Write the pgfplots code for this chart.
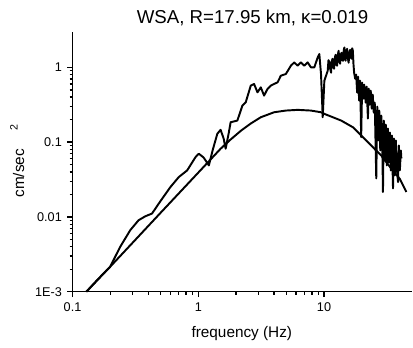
\documentclass[border=0pt]{standalone}
\usepackage{fontspec}
\setmainfont{Liberation Sans}
\usepackage{pgfplots}
\pgfplotsset{compat=1.18}
\begin{document}
\begin{tikzpicture}
\path[use as bounding box] (-54.4pt,-41.5pt) rectangle (255.4pt,218.8pt);
\begin{axis}[
  at={(0pt,0pt)}, anchor=south west,
  scale only axis, width=254.6pt, height=195pt,
  xmode=log, ymode=log,
  xmin=0.1, xmax=50, ymin=0.001, ymax=3,
  axis x line=bottom, axis y line=left,
  axis line style={-, line width=1.2pt},
  tick align=outside,
  major tick length=4pt, minor tick length=2.2pt,
  every tick/.style={black, line width=1pt},
  xtick={0.1,1,10}, xticklabels={0.1,1,10},
  ytick={0.001,0.01,0.1,1}, yticklabels={1E-3,0.01,0.1,1},
  tick label style={font=\fontsize{9.5}{11}\selectfont},
  xticklabel style={yshift=-1pt},
  yticklabel style={xshift=-0.5pt},
  clip=false,
]
% observed spectrum
\addplot[black, line width=1.45pt, line join=round] coordinates {
(0.1289,0.001) (0.1598,0.001476) (0.1991,0.002154) (0.2394,0.00398)
(0.2877,0.00665) (0.3351,0.00903) (0.3792,0.0102) (0.4287,0.0111)
(0.4994,0.0162) (0.6004,0.0251) (0.6995,0.0341) (0.8162,0.04195)
(0.9506,0.0631) (1.010,0.07003) (1.101,0.0625) (1.214,0.0489)
(1.2997,0.0775) (1.417,0.1294) (1.505,0.1463) (1.591,0.112)
(1.651,0.0817) (1.744,0.1306) (1.809,0.1848) (2.046,0.1947)
(2.243,0.3085) (2.384,0.3414) (2.614,0.5702) (2.777,0.6006)
(2.956,0.4642) (3.141,0.5412) (3.337,0.4195) (3.552,0.5152)
(3.774,0.5702) (4.01,0.6006) (4.269,0.631) (4.536,0.775)
(4.972,0.8166) (5.452,1.054) (5.795,1.166) (6.166,1.054)
(6.553,1.166) (6.961,1.054) (7.412,1.166) (7.875,1.0)
(8.368,1.0) (8.906,1.359) (9.173,1.509) (9.462,0.8166)
(9.763,0.2154) (10.06,0.6648) (10.70,0.9037)
(10.85,1.25) (11.06,1.155) (11.2,0.95) (11.37,0.850) (11.5,1.2)
(11.69,1.306) (11.85,1.0) (12.02,0.961) (12.2,1.35) (12.36,1.477)
(12.5,1.1) (12.70,1.054) (12.9,1.5) (13.06,1.670) (13.25,1.2)
(13.42,1.12) (13.6,1.5) (13.80,1.570) (14.0,1.25) (14.18,1.228)
(14.35,1.7) (14.53,1.848) (14.7,1.35) (14.85,1.228) (15.05,1.6)
(15.27,1.775) (15.5,1.3) (15.69,1.155) (15.9,1.55) (16.13,1.722)
(16.35,1.35) (16.58,1.306) (16.75,1.8) (16.95,1.670) (17.15,1.1)
(17.35,0.850) (17.68,0.7067) (18.01,0.7992)
(18.34,0.4599) (18.68,0.7516) (19.03,0.3597) (19.38,0.6648)
(19.74,0.1166) (20.11,0.6252) (20.48,0.3825) (20.86,0.5877)
(21.44,0.3383) (21.84,0.5529) (22.33,0.207) (22.66,0.52)
(23.08,0.3181) (23.51,0.4891) (23.95,0.2813) (24.39,0.4325)
(24.85,0.2489) (25.31,0.3383) (26.02,0.0328) (26.50,0.2992)
(26.99,0.1054) (27.49,0.2647) (28.00,0.0775) (28.52,0.227)
(29.05,0.0904) (29.42,0.02154) (29.86,0.1947) (30.41,0.05702)
(30.97,0.1722) (31.55,0.0489) (32.14,0.1523) (32.73,0.05362)
(33.34,0.1346) (33.96,0.04195) (34.59,0.1228) (35.36,0.02413)
(35.89,0.112) (36.56,0.03597) (37.24,0.1054) (37.93,0.04459)
(38.77,0.02929) (39.34,0.09036) (40.08,0.04195) (40.82,0.0775)
(41.20,0.0606)
};
% model spectrum
\addplot[black, line width=1.45pt, line join=round] coordinates {
(0.1289,0.001) (0.1991,0.002154) (0.3057,0.004656) (0.4994,0.01127)
(1.005,0.0395) (1.505,0.0817) (1.809,0.1086) (2.194,0.1432)
(2.614,0.1775) (3.141,0.2154) (4.01,0.2512) (4.972,0.2647)
(6.166,0.2704) (7.875,0.2647) (9.462,0.2512) (10.06,0.2391)
(13.67,0.1947) (16.95,0.1585) (19.74,0.1228) (23.73,0.0904)
(28.52,0.06648) (34.28,0.0442) (39.93,0.03251) (45.15,0.02154)
};
\end{axis}
\node[anchor=base, font=\fontsize{14}{16}\selectfont] at (135pt,201.5pt) {WSA, R=17.95 km, κ=0.019};
\node[anchor=base, font=\fontsize{11.5}{14}\selectfont] at (127pt,-34pt) {frequency (Hz)};
\node[rotate=90, anchor=center, font=\fontsize{11.5}{14}\selectfont] at (-41.5pt,98pt) {cm/sec\hspace{14pt}\raisebox{5pt}{\fontsize{8}{9}\selectfont 2}};
\end{tikzpicture}
\end{document}
